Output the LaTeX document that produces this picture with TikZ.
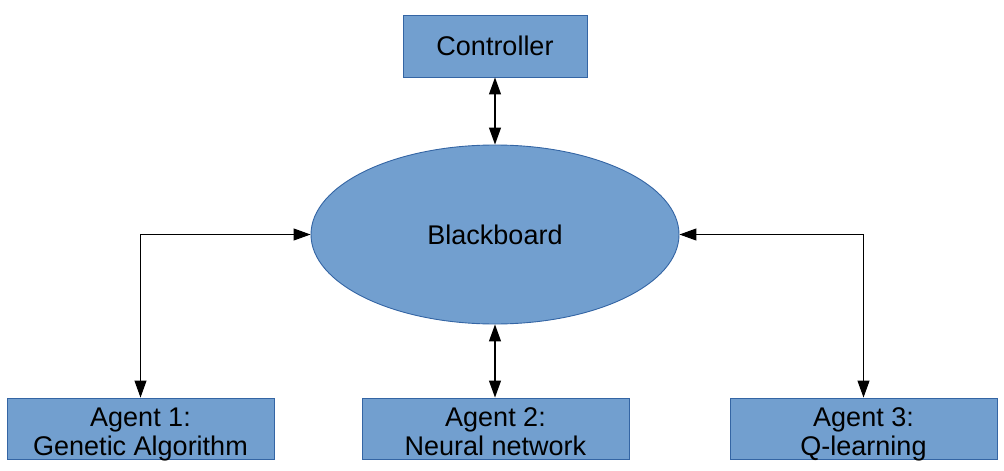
\documentclass[tikz,border=0pt]{standalone}
\usepackage{fontspec}
\setmainfont{Liberation Sans}
\usetikzlibrary{arrows.meta,shapes.geometric}
\definecolor{boxfill}{HTML}{729FCF}
\definecolor{boxdraw}{HTML}{3465A4}
\begin{document}
\begin{tikzpicture}[x=1pt,y=-1pt,
  blockbox/.style={draw=boxdraw,fill=boxfill,line width=0.9pt,inner sep=0pt,
    minimum width=#1,minimum height=61pt,align=center,
    font=\fontsize{27}{29.5}\selectfont},
  blockbox/.default=267pt,
  agentbox/.style={blockbox,text height=54pt,text depth=0pt},
  link/.style={line width=1.1pt,{Triangle[length=17pt,width=12pt]}-{Triangle[length=17pt,width=12pt]}}]
\useasboundingbox (0,0) rectangle (1004,471);
\node[blockbox=184pt,minimum height=62pt] (ctrl) at (495,46) {Controller};
\node[draw=boxdraw,fill=boxfill,line width=0.9pt,ellipse,inner sep=0pt,
  minimum width=368pt,minimum height=179pt,font=\fontsize{27}{30}\selectfont] (bb) at (495,234.5) {Blackboard};
\node[agentbox] (a1) at (140.5,428.5) {Agent 1:\\Genetic Algorithm};
\node[agentbox] (a2) at (495.5,428.5) {Agent 2:\\Neural network};
\node[agentbox] (a3) at (863.5,428.5) {Agent 3:\\Q-learning};
\draw[link] (ctrl.south) -- (bb.north);
\draw[link] (bb.south) -- (bb.south |- a2.north);
\draw[link] (bb.west) -| (a1.north);
\draw[link] (bb.east) -| (a3.north);
\end{tikzpicture}
\end{document}
